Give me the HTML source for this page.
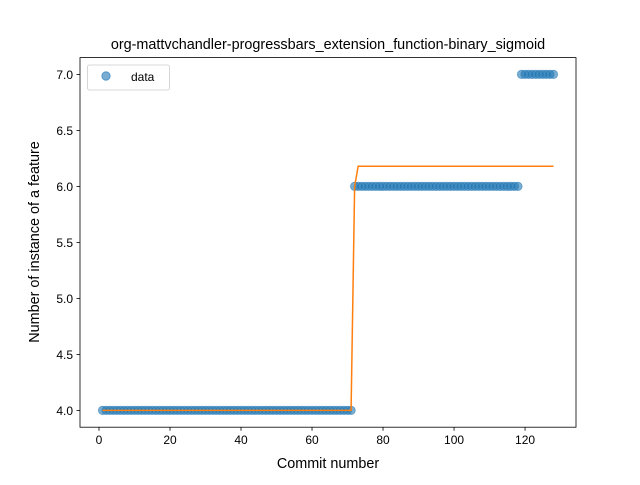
<!DOCTYPE html>
<html><head><meta charset="utf-8"><style>
body{margin:0;background:#fff;}
svg text{font-family:"Liberation Sans","DejaVu Sans",sans-serif;fill:#000;}
</style></head><body>
<svg id="chart" width="640" height="480" viewBox="0 0 640 480">
<rect width="640" height="480" fill="#fff"/>
<text x="328" y="49" font-size="14.4" text-anchor="middle">org-mattvchandler-progressbars_extension_function-binary_sigmoid</text>
<g id="plot"></g>
<text x="328" y="468" font-size="14.4" text-anchor="middle">Commit number</text>
<text transform="translate(39,242) rotate(-90)" font-size="14.4" text-anchor="middle">Number of instance of a feature</text>
</svg>
<script>
const commits = [];
for (let i = 1; i <= 128; i++) commits.push(i);
const values = [
4,4,4,4,4,4,4,4,4,4,4,4,4,4,4,4,4,4,4,4,
4,4,4,4,4,4,4,4,4,4,4,4,4,4,4,4,4,4,4,4,
4,4,4,4,4,4,4,4,4,4,4,4,4,4,4,4,4,4,4,4,
4,4,4,4,4,4,4,4,4,4,4,
6,6,6,6,6,6,6,6,6,6,6,6,6,6,6,6,6,6,6,6,
6,6,6,6,6,6,6,6,6,6,6,6,6,6,6,6,6,6,6,6,
6,6,6,6,6,6,6,
7,7,7,7,7,7,7,7,7,7];
const fitX = [1, 71, 72, 73, 128];
const fitY = [4.0, 4.0, 6.0, 6.18, 6.18];
const xTicks = [0, 20, 40, 60, 80, 100, 120];
const yTicks = [4.0, 4.5, 5.0, 5.5, 6.0, 6.5, 7.0];

const L=80,R=576,T=57.6,B=427.2;
const xmin=-5.35,xmax=134.35,ymin=3.85,ymax=7.15;
const sx=v=>L+(v-xmin)/(xmax-xmin)*(R-L);
const sy=v=>B-(v-ymin)/(ymax-ymin)*(B-T);
const NS="http://www.w3.org/2000/svg";
const g=document.getElementById('plot');
function mk(tag,attrs,parent){const e=document.createElementNS(NS,tag);for(const k in attrs)e.setAttribute(k,attrs[k]);(parent||g).appendChild(e);return e;}

const pts=mk('g',{});


commits.forEach((c,i)=>{
  const p=mk('circle',{cx:sx(c),cy:sy(values[i]),r:4.2,fill:'#1f77b4','fill-opacity':0.6,stroke:'#1f77b4','stroke-opacity':0.6,'stroke-width':0.8},pts);
  
  
});
const line=mk('polyline',{points:fitX.map((x,i)=>sx(x)+','+sy(fitY[i])).join(' '),fill:'none',stroke:'#ff7f0e','stroke-width':1.5});



const frame=mk('rect',{x:L,y:T,width:R-L,height:B-T,fill:'none',stroke:'#000','stroke-width':0.8});



xTicks.forEach(t=>{
  const x=sx(t);
  mk('line',{x1:x,x2:x,y1:B,y2:B+3.5,stroke:'#000','stroke-width':0.8});
  const tx=mk('text',{x:x,y:B+17,'font-size':12,'text-anchor':'middle'});
  tx.textContent=t;
  
  
});
yTicks.forEach(t=>{
  const y=sy(t);
  mk('line',{x1:L-3.5,x2:L,y1:y,y2:y,stroke:'#000','stroke-width':0.8});
  const tx=mk('text',{x:L-7,y:y+4.5,'font-size':12,'text-anchor':'end'});
  tx.textContent=t.toFixed(1);
  
  
});

const leg=mk('g',{});


mk('rect',{x:87.5,y:65,width:82,height:25,rx:2,fill:'#fff','fill-opacity':0.8,stroke:'#ccc','stroke-width':0.8},leg);
mk('circle',{cx:106,cy:76,r:4.2,fill:'#1f77b4','fill-opacity':0.6,stroke:'#1f77b4','stroke-opacity':0.6},leg);
const lt=mk('text',{x:131,y:81,'font-size':12},leg);
lt.textContent='data';


</script>
</body></html>
